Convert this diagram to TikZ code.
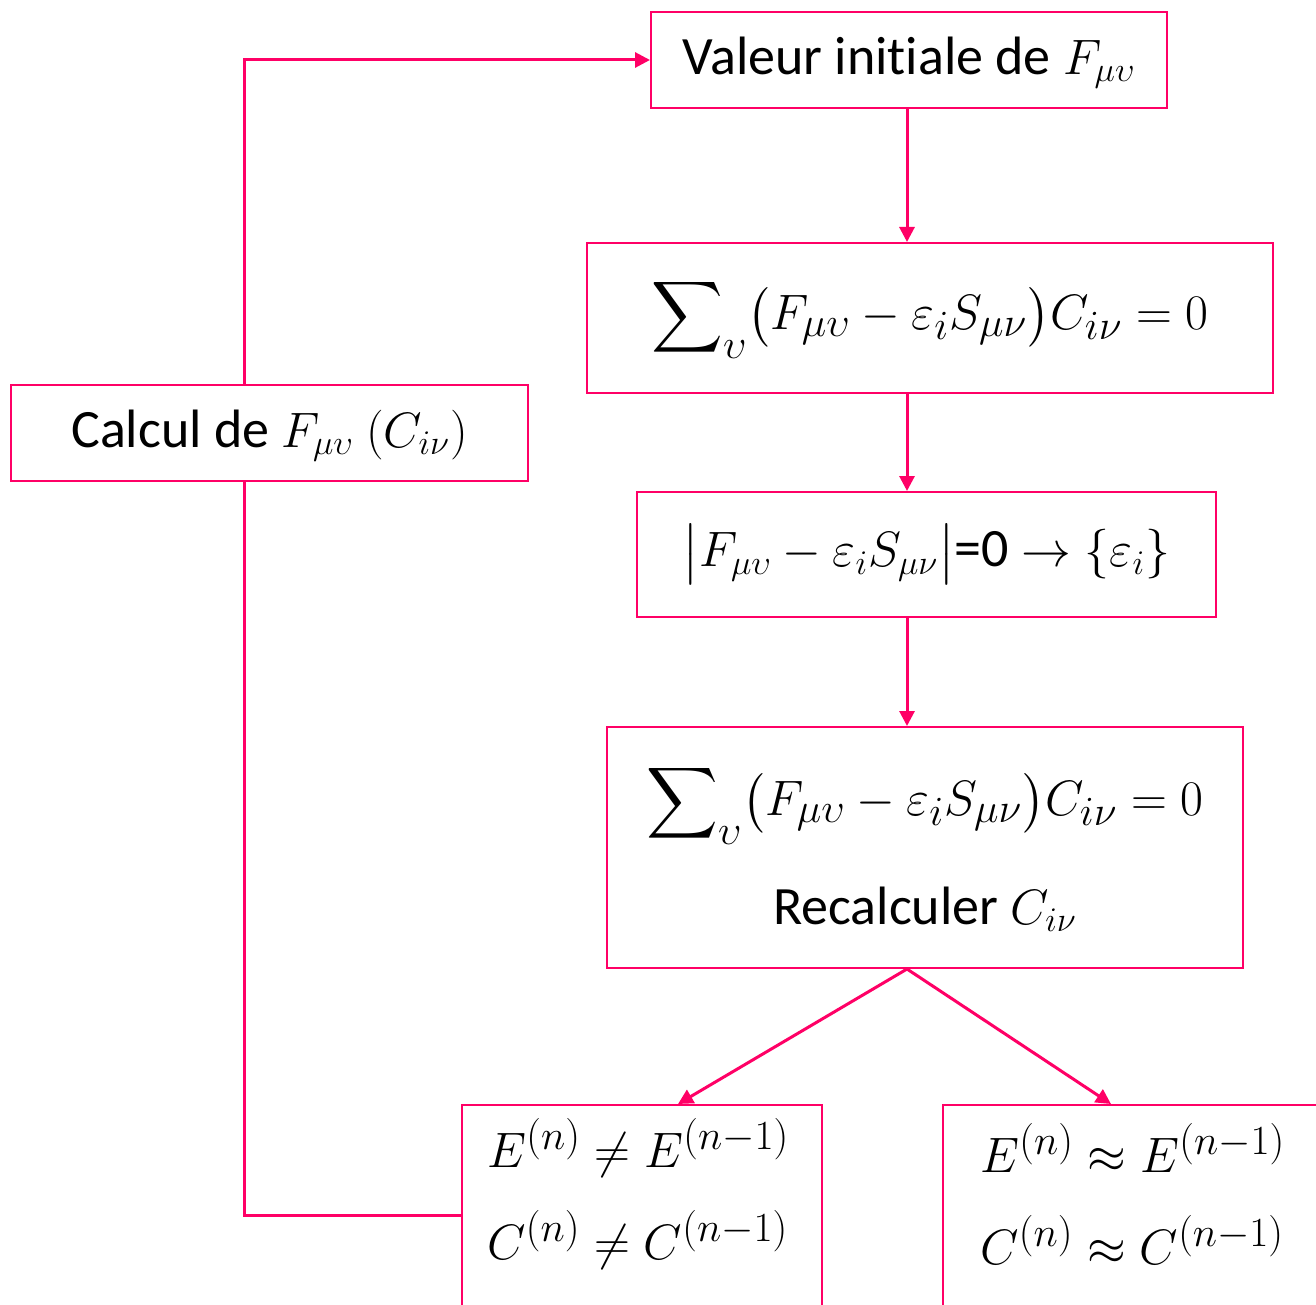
\documentclass[tikz,border=0pt]{standalone}
\usepackage{amsmath}
\usepackage[no-math]{fontspec}
\setmainfont[Ligatures=NoCommon]{Carlito}
\usetikzlibrary{arrows.meta,calc}
\definecolor{pinkline}{RGB}{255,0,102}
\begin{document}
\begin{tikzpicture}[x=0.5pt,y=-0.5pt,
  font=\fontsize{27pt}{33pt}\selectfont,
  box/.style={draw=pinkline,line width=1pt,rectangle,inner sep=0pt,align=center},
  onerow/.style={text height=20pt,text depth=5.5pt},
  conn/.style={draw=pinkline,line width=1.5pt},
  arr/.style={conn,-{Triangle[length=7.5pt,width=7.5pt]}},
  big/.style={font=\fontsize{29pt}{35pt}\selectfont},
  mtext/.style={inner sep=0pt,anchor=west,font=\fontsize{30.5pt}{36pt}\selectfont}]
\useasboundingbox (0,0) rectangle (1316,1305);
\clip (0,0) rectangle (1316,1305);
\fill[white] (0,0) rectangle (1316,1305);
% boxes
\node[box,onerow,minimum width=258pt,minimum height=48pt] (b1) at (909,60) {Valeur initiale de $F_{\mu\upsilon}$};
\node[box,big,minimum width=343pt,minimum height=75pt] (b2) at (930,318)
  {$\displaystyle\sum\nolimits_{\upsilon}\bigl(F_{\mu\upsilon}-\varepsilon_i S_{\mu\nu}\bigr)C_{i\nu}=0$};
\node[box,minimum width=289.5pt,minimum height=62.5pt] (b3) at (926.5,554.5)
  {$\bigl|F_{\mu\upsilon}-\varepsilon_i S_{\mu\nu}\bigr|$=0 $\rightarrow\{\varepsilon_i\}$};
\node[box,minimum width=318pt,minimum height=120.5pt] (b4) at (925,847.5)
  {{\fontsize{29pt}{35pt}\selectfont$\displaystyle\sum\nolimits_{\upsilon}\bigl(F_{\mu\upsilon}-\varepsilon_i S_{\mu\nu}\bigr)C_{i\nu}=0$}\\[20pt]
   Recalculer $C_{i\nu}$};
\node[box,onerow,minimum width=258.5pt,minimum height=48pt] (calc) at (269.5,433) {Calcul de $F_{\mu\upsilon}$ $(C_{i\nu})$};
\node[box,anchor=north west,minimum width=180pt,minimum height=150pt] (b5) at (461,1104) {};
\node[box,anchor=north west,minimum width=200pt,minimum height=150pt] (b6) at (942,1104) {};
% texts of bottom boxes
\node[mtext] (t5a) at (487,1148) {$E^{(n)}\neq E^{(n-1)}$};
\node[mtext] (t5b) at (487,1240) {$C^{(n)}\neq C^{(n-1)}$};
\node[mtext] (t6a) at (980,1148) {$E^{(n)}\approx E^{(n-1)}$};
\node[mtext] (t6b) at (980,1240) {$C^{(n)}\approx C^{(n-1)}$};
% coordinates
\coordinate (sp) at (907,0);
\coordinate (lx) at (244,0);
\coordinate (fb) at ($(b5.north west)+(0,111)$);
% connectors
\draw[arr] (b1.south -| sp) -- (b2.north -| sp);
\draw[arr] (b2.south -| sp) -- (b3.north -| sp);
\draw[arr] (b3.south -| sp) -- (b4.north -| sp);
\draw[arr] (b4.south -| sp) -- ($(b5.north)+(36,0)$);
\draw[arr] (b4.south -| sp) -- ($(b6.north)+(-32,0)$);
\draw[conn] (fb) -- (fb -| lx) -- (calc.south -| lx);
\draw[arr] (calc.north -| lx) -- (lx |- b1.west) -- (b1.west);
\end{tikzpicture}
\end{document}
